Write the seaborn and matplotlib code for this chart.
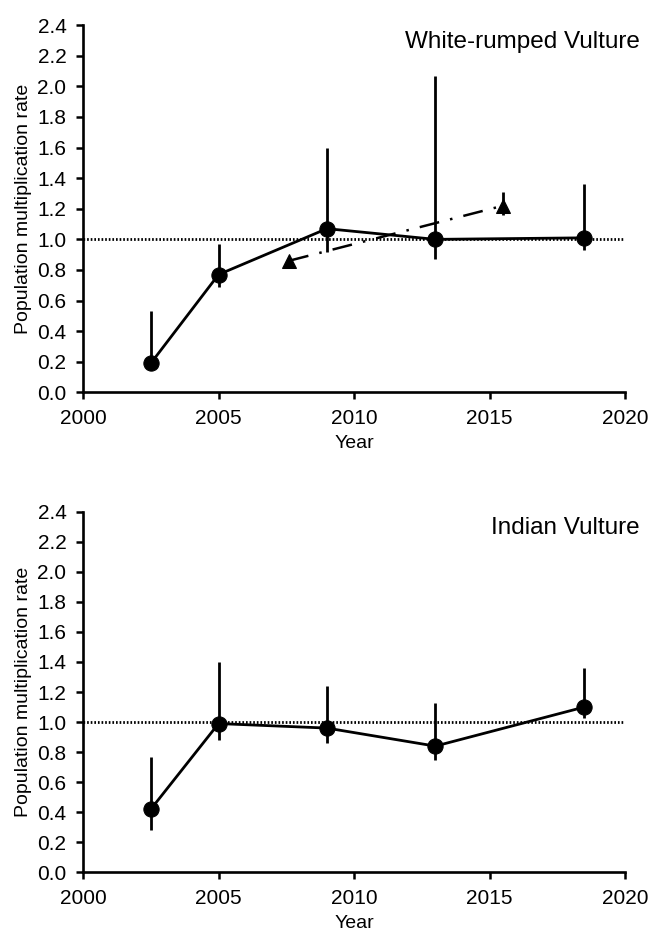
import numpy as np
import pandas as pd
import seaborn as sns
import matplotlib.pyplot as plt

# survey mid-years
years = [2002.5, 2005, 2009, 2013, 2018.5]

# White-rumped Vulture
wrv_rate = [0.19, 0.77, 1.07, 1.00, 1.01]
wrv_lo = [0.15, 0.69, 0.92, 0.87, 0.93]
wrv_hi = [0.53, 0.97, 1.60, 2.07, 1.36]

# White-rumped Vulture, separate trend estimate (dash-dot)
trend_years = [2007.6, 2015.5]
trend_rate = [0.86, 1.22]
trend_lo = [0.86, 1.16]
trend_hi = [0.86, 1.31]

# Indian Vulture
iv_rate = [0.42, 0.99, 0.96, 0.84, 1.10]
iv_lo = [0.28, 0.88, 0.86, 0.75, 1.03]
iv_hi = [0.77, 1.40, 1.24, 1.13, 1.36]

sns.set_style("ticks")
plt.rcParams['font.family'] = ['Liberation Sans', 'DejaVu Sans']
plt.rcParams.update({"text.color": "black", "axes.labelcolor": "black",
                     "xtick.color": "black", "ytick.color": "black"})

fig = plt.figure(figsize=(6.49, 9.32), dpi=100)
ax1 = fig.add_axes([0.128, 0.579, 0.835, 0.394])
ax2 = fig.add_axes([0.128, 0.064, 0.835, 0.387])


def draw_panel(ax, rate, lo, hi, title):
    df = pd.DataFrame({"Year": years, "rate": rate})
    ax.vlines(years, lo, hi, color="black", lw=2, zorder=2)
    sns.lineplot(data=df, x="Year", y="rate", ax=ax, color="black", lw=2,
                 marker="o", markersize=11, markeredgecolor="black", zorder=3)
    # reference line at 1.0
    ax.axhline(1.0, color="black", ls=(0, (0.6, 0.7)), lw=2, zorder=1)
    ax.set_xlim(2000, 2020)
    ax.set_ylim(0, 2.4)
    ax.set_xticks([2000, 2005, 2010, 2015, 2020])
    ax.set_yticks(np.arange(0, 2.41, 0.2))
    ax.set_yticklabels([f"{v:.1f}" for v in np.arange(0, 2.41, 0.2)])
    ax.set_xlabel("Year", fontsize=14, labelpad=5)
    ax.set_ylabel("Population multiplication rate", fontsize=14, labelpad=4)
    ax.tick_params(direction="out", length=5, width=1.8, color="black",
                   labelcolor="black", labelsize=15, pad=7)
    for s in ["left", "bottom"]:
        ax.spines[s].set_linewidth(1.9)
        ax.spines[s].set_color("black")
    sns.despine(ax=ax)
    ax.text(1.027, 0.985, title, transform=ax.transAxes, ha="right", va="top",
            fontsize=17.5, color="black")


draw_panel(ax1, wrv_rate, wrv_lo, wrv_hi, "White-rumped Vulture")

# dash-dot trend line with triangles
ax1.vlines(trend_years, trend_lo, trend_hi, color="black", lw=2, zorder=2)
tdf = pd.DataFrame({"Year": trend_years, "rate": trend_rate})
sns.lineplot(data=tdf, x="Year", y="rate", ax=ax1, color="black", lw=1.8,
             ls=(0, (8, 4.5, 1, 4.5)), marker="^", markersize=10,
             markeredgecolor="black", zorder=3)
ax1.set_xlabel("Year", fontsize=14, labelpad=5)
ax1.set_ylabel("Population multiplication rate", fontsize=14, labelpad=4)

draw_panel(ax2, iv_rate, iv_lo, iv_hi, "Indian Vulture")

fig.savefig("out.png", dpi=100)
